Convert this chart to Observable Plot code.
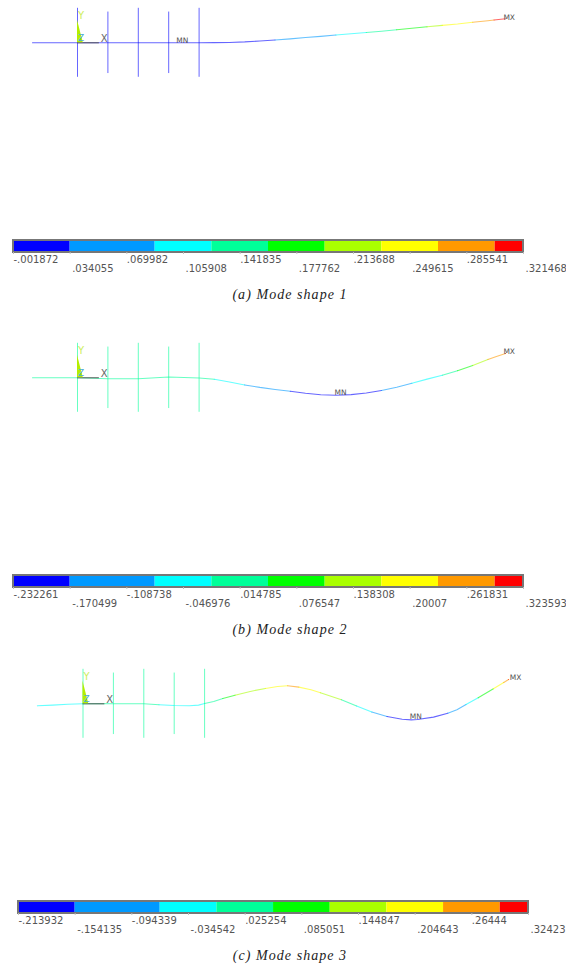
<!DOCTYPE html>
<html><head><meta charset="utf-8">
<script src="https://cdn.jsdelivr.net/npm/d3@7"></script>
<script src="https://cdn.jsdelivr.net/npm/@observablehq/plot@0.6"></script>
<style>
html,body{margin:0;padding:0;background:#fff;overflow:hidden}
#root{position:relative;width:566px;height:966px;overflow:hidden}
.panel{position:absolute;left:0;width:566px}
svg{display:block;background:transparent}
.cap{position:absolute;left:0;width:566px;text-align:center;font:italic 14px "Liberation Serif",serif;letter-spacing:1.05px;color:#222;white-space:pre}
</style></head><body><div id="root"></div>
<script>
const contourColors = ["#0000ff","#0099ff","#00ffff","#00ff99","#00ff00","#aaff00","#ffff00","#ff9900","#ff0000"];

// Mode 1
const labels1 = ["-.001872",".034055",".069982",".105908",".141835",".177762",".213688",".249615",".285541",".321468"];
const ticks1 = [-.001872,.034055,.069982,.105908,.141835,.177762,.213688,.249615,.285541,.321468];
const breaks1 = [.034055,.087945,.123872,.159798,.195725,.231652,.267578,.303505];
const xs1 = [-1.48,0,1,2,3,4,4.5,5,5.5,6,6.5,7,7.5,8,8.5,9,9.5,10,10.5,11,11.5,12,12.5,13,13.5,13.7,14.08];
const vs1 = [0,0,0,0,0,0,.002,.005,.012,.024,.038,.052,.07,.086,.103,.12,.137,.155,.175,.195,.213,.232,.25,.275,.295,.304,.3215];

// Mode 2
const labels2 = ["-.232261","-.170499","-.108738","-.046976",".014785",".076547",".138308",".20007",".261831",".323593"];
const ticks2 = [-.232261,-.170499,-.108738,-.046976,.014785,.076547,.138308,.20007,.261831,.323593];
const breaks2 = [-.170499,-.07786,-.016099,.045662,.107424,.169185,.230946,.292712];
const xs2 = [-1.48,0,1,2,3,4,4.5,5,5.5,6,6.5,7,7.5,8,8.5,9,9.5,10,10.5,11,11.5,12,12.5,13,13.5,13.78,14.08];
const vs2 = [0,0,-.012,-.012,.01,-.002,-.02,-.055,-.095,-.128,-.155,-.18,-.205,-.225,-.232,-.224,-.203,-.17,-.125,-.073,-.018,.035,.095,.165,.245,.285,.3236];

// Mode 3
const labels3 = ["-.213932","-.154135","-.094339","-.034542",".025254",".085051",".144847",".204643",".26444",".32423"];
const ticks3 = [-.213932,-.154135,-.094339,-.034542,.025254,.085051,.144847,.204643,.26444,.32423];
const breaks3 = [-.154135,-.0644,-.0046,.0552,.115,.1748,.2346,.2944];
const xs3 = [-1.5,-1,-.5,0,.5,1,1.5,2,2.5,3,3.5,3.8,4,4.3,4.6,5,5.5,6,6.4,6.73,7.1,7.5,7.81,8.5,9,9.5,10,10.5,10.8,11,11.53,12,12.3,12.6,13,13.5,13.84,14];
const vs3 = [-.027,-.018,-.006,0,.002,0,0,0,-.012,-.023,-.025,-.018,.004,.03,.07,.115,.165,.205,.23,.24,.222,.188,.147,.055,-.03,-.11,-.17,-.207,-.214,-.21,-.178,-.125,-.08,-.01,.08,.2,.285,.324];

// Piers: station along the beam and half-length
const pierX = [0,1,2,3,4];
const pierHalf = [.46,.41,.46,.41,.46];

const mn = [[3.45,.03],[8.65,-.197],[10.95,-.176]];
const mx = [[14.2,.335],[14.2,.35],[14.23,.35]];
const captions = ["(a) Mode shape 1","(b) Mode shape 2","(c) Mode shape 3"];

const modes = [
  {top:0,  origin:77,  xs:xs1,vs:vs1,ticks:ticks1,labels:labels1,breaks:breaks1,lx:13, h:236},
  {top:335,origin:77,  xs:xs2,vs:vs2,ticks:ticks2,labels:labels2,breaks:breaks2,lx:13, h:236},
  {top:661,origin:82.5,xs:xs3,vs:vs3,ticks:ticks3,labels:labels3,breaks:breaks3,lx:18, h:236}
];

const root = document.getElementById("root");
const PXU = 30.4, PXV = 75, BASE = 42.3;
const labelFont = '"DejaVu Sans",sans-serif';

modes.forEach((m,k)=>{
  const panel = document.createElement("div");
  panel.className = "panel"; panel.style.top = m.top+"px";
  const color = {type:"threshold",domain:m.breaks,range:contourColors};
  const rows = m.xs.map((x,i)=>({x,v:m.vs[i]}));
  const piers = pierX.map((x,i)=>({x,h:pierHalf[i]}));
  const beam = Plot.plot({
    width:566,height:m.h,margin:0,
    x:{domain:[-m.origin/PXU,(566-m.origin)/PXU],range:[0,566],axis:null},
    y:{domain:[(BASE-m.h)/PXV,BASE/PXV],range:[m.h,0],axis:null},
    color,
    style:{background:"transparent"},
    marks:[
      Plot.ruleX(piers,{x:"x",y1:d=>-d.h,y2:d=>d.h,stroke:()=>0,strokeOpacity:.6,strokeWidth:1}),
      Plot.line(rows,{x:"x",y:"v",z:null,stroke:"v",strokeOpacity:.6,strokeWidth:1.1}),
      Plot.ruleY([0],{x1:0,x2:.72,stroke:"#555",strokeWidth:1}),
      Plot.areaX([{v:0,w:.19},{v:.3,w:0}],{x1:0,x2:"w",y:"v",fill:"#b4ee00"}),
      Plot.text(["Y"],{x:[.12],y:[.36],fill:"#cdee60",fontSize:10,fontFamily:labelFont}),
      Plot.text(["Z"],{x:[.12],y:[.06],fill:"#4aaecf",fontSize:9,fontFamily:labelFont}),
      Plot.text(["X"],{x:[.88],y:[.055],fill:"#666",fontSize:10,fontFamily:labelFont}),
      Plot.text(["MN"],{x:[mn[k][0]],y:[mn[k][1]],fill:"#555",fontSize:7.5,fontFamily:labelFont}),
      Plot.text(["MX"],{x:[mx[k][0]],y:[mx[k][1]],fill:"#555",fontSize:7.5,fontFamily:labelFont})
    ]
  });
  beam.style.position="absolute"; beam.style.top="0"; beam.style.left="0";
  panel.appendChild(beam);

  const lo = m.ticks[0], hi = m.ticks[m.ticks.length-1];
  const edges = [lo,...m.breaks,hi];
  const cells = m.breaks.concat([hi]).map((e,i)=>({x1:edges[i],x2:e,v:edges[i]}));
  const tk = m.ticks.map((t,i)=>({t,label:m.labels[i],i}));
  const legend = Plot.plot({
    width:566,height:52,
    marginTop:5,marginBottom:35,marginLeft:m.lx,marginRight:566-(m.lx+510),
    x:{domain:[lo,hi],axis:null},
    y:{domain:[0,1],axis:null},
    color,
    style:{background:"transparent"},
    marks:[
      Plot.rect(cells,{x1:"x1",x2:"x2",y1:0,y2:1,fill:"v"}),
      Plot.rect([0],{x1:lo,x2:hi,y1:0,y2:1,stroke:"#777",strokeWidth:2,fill:"none"}),
      Plot.ruleX(m.ticks,{y1:0,y2:-.16,stroke:"#bbb"}),
      Plot.text(tk.filter(d=>d.i%2===0),{x:"t",text:"label",frameAnchor:"bottom",dy:10,dx:0,textAnchor:"start",fill:"#555",fontSize:10,fontFamily:labelFont}),
      Plot.text(tk.filter(d=>d.i%2===1),{x:"t",text:"label",frameAnchor:"bottom",dy:19,dx:2,textAnchor:"start",fill:"#555",fontSize:10,fontFamily:labelFont})
    ]
  });
  legend.style.position="absolute"; legend.style.top="235px"; legend.style.left="0";
  panel.appendChild(legend);

  const cap = document.createElement("div");
  cap.className="cap"; cap.style.top="287px"; cap.style.left="7px"; cap.textContent=captions[k];
  panel.appendChild(cap);
  root.appendChild(panel);
});
</script></body></html>
